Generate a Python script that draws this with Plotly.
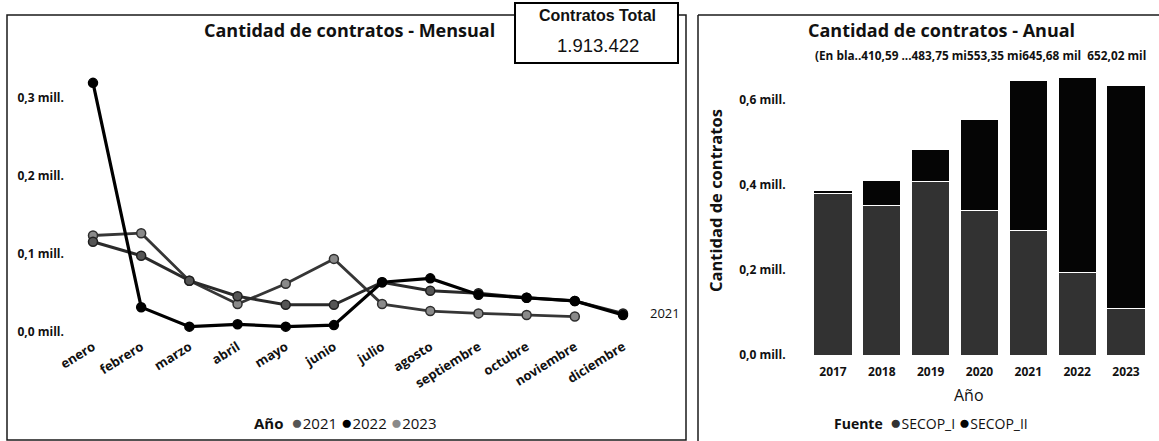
import plotly.graph_objects as go

# ---- data -------------------------------------------------------------
meses = ["enero", "febrero", "marzo", "abril", "mayo", "junio", "julio",
         "agosto", "septiembre", "octubre", "noviembre", "diciembre"]

# monthly contract counts per year
contratos_2021 = [115000, 97000, 65000, 45000, 34000, 34000, 63000,
                  52000, 49000, 43000, 39000, 23000]
contratos_2022 = [319000, 31000, 6000, 9000, 6000, 8000, 63000,
                  68000, 47000, 43000, 39000, 21000]
contratos_2023 = [123000, 126000, 65000, 35000, 61000, 93000, 35000,
                  26000, 23000, 21000, 19000, None]

anios = ["2017", "2018", "2019", "2020", "2021", "2022", "2023"]
# yearly totals and the SECOP_I share; SECOP_II is the remainder
totales = [386000, 410590, 483750, 553350, 645680, 652020, 635000]
secop_i = [379000, 351000, 408000, 339000, 292000, 193000, 110000]
secop_ii = [t - s for t, s in zip(totales, secop_i)]

contratos_total = 1913422

ticks_mes = [0, 100000, 200000, 300000]
ticks_mes_txt = ["0,0 mill.", "0,1 mill.", "0,2 mill.", "0,3 mill."]
ticks_anio = [0, 200000, 400000, 600000]
ticks_anio_txt = ["0,0 mill.", "0,2 mill.", "0,4 mill.", "0,6 mill."]

# ---- helpers ----------------------------------------------------------
W, H = 1159, 441


def fx(px):
    return px / W


def fy(py):
    return 1 - py / H


def es_num(v):
    return f"{v:,.0f}".replace(",", ".")


def es_mil(v):
    return f"{v / 1000:.2f}".replace(".", ",")


FONT = "Open Sans"
INK = "#111111"

estilos = {
    "2021": dict(line="#2a2a2a", fill="#555555", edge="#1e1e1e", width=3),
    "2022": dict(line="#000000", fill="#000000", edge="#000000", width=3.2),
    "2023": dict(line="#363636", fill="#8a8a8a", edge="#2e2e2e", width=2.8),
}
color_i = "#323232"
color_ii = "#050505"

fig = go.Figure()

# ---- monthly lines ----------------------------------------------------
for anio, serie in [("2023", contratos_2023), ("2021", contratos_2021),
                    ("2022", contratos_2022)]:
    e = estilos[anio]
    fig.add_trace(go.Scatter(
        x=meses, y=serie, name=anio, mode="lines+markers",
        line=dict(color=e["line"], width=e["width"]),
        marker=dict(size=9, color=e["fill"],
                    line=dict(color=e["edge"], width=1.5)),
        cliponaxis=False, showlegend=False,
        xaxis="x", yaxis="y",
    ))

# ---- yearly stacked bars ---------------------------------------------
fig.add_trace(go.Bar(
    x=anios, y=secop_i, name="SECOP_I", width=0.78,
    marker=dict(color=color_i, line=dict(color="white", width=1)),
    showlegend=False, xaxis="x2", yaxis="y2",
))
fig.add_trace(go.Bar(
    x=anios, y=secop_ii, name="SECOP_II", width=0.78,
    marker=dict(color=color_ii, line=dict(color="white", width=1)),
    showlegend=False, xaxis="x2", yaxis="y2",
))

step_l = (623 - 93) / 11
step_r = (1126 - 833) / 6
tick_font = dict(size=12, family=FONT, weight="bold", color=INK)

fig.update_layout(
    width=W, height=H,
    margin=dict(l=0, r=0, t=0, b=0),
    paper_bgcolor="white", plot_bgcolor="white",
    barmode="stack",
    font=dict(family=FONT, color=INK, size=12),
    xaxis=dict(
        domain=[fx(93 - step_l / 2), fx(623 + step_l / 2)],
        range=[-0.5, 11.5], type="category", categoryorder="array",
        categoryarray=meses, tickangle=-32, showgrid=False,
        showline=False, zeroline=False, ticks="", automargin=False,
        tickfont=dict(tick_font, size=13),
        anchor="y",
    ),
    yaxis=dict(
        domain=[fy(336), fy(70)],
        range=[-6000, 335500], tickvals=ticks_mes, ticktext=ticks_mes_txt,
        showgrid=False, showline=False, zeroline=False, ticks="",
        automargin=False, ticklabelstandoff=4,
        tickfont=tick_font, anchor="x",
    ),
    xaxis2=dict(
        domain=[fx(833 - step_r / 2), fx(1126 + step_r / 2)],
        range=[-0.5, 6.5], type="category", showgrid=False,
        showline=False, zeroline=False, ticks="", automargin=False,
        ticklabelstandoff=8,
        tickfont=tick_font, anchor="y2",
    ),
    yaxis2=dict(
        domain=[fy(355), fy(70)],
        range=[0, 670600], tickvals=ticks_anio, ticktext=ticks_anio_txt,
        showgrid=False, showline=False, zeroline=False, ticks="",
        automargin=False, ticklabelstandoff=22,
        tickfont=tick_font, anchor="x2",
    ),
)

# ---- panel frames and the total card --------------------------------
frame = dict(color="#1a1a1a", width=1.5)
fig.add_shape(type="rect", xref="paper", yref="paper",
              x0=fx(7), x1=fx(686), y0=fy(440), y1=fy(15), line=frame)
fig.add_shape(type="line", xref="paper", yref="paper",
              x0=fx(698), x1=fx(698), y0=fy(441), y1=fy(15), line=frame)
fig.add_shape(type="line", xref="paper", yref="paper",
              x0=fx(698), x1=fx(1159), y0=fy(15), y1=fy(15), line=frame)
fig.add_shape(type="rect", xref="paper", yref="paper",
              x0=fx(515), x1=fx(678), y0=fy(63), y1=fy(3),
              line=dict(color="#000000", width=2), fillcolor="white")

ann = []


def texto(px, py, s, size=12, bold=False, family=FONT, angle=0,
          xanchor="center", color=INK):
    ann.append(dict(
        x=fx(px), y=fy(py), xref="paper", yref="paper", text=s,
        showarrow=False, xanchor=xanchor, yanchor="middle",
        textangle=angle,
        font=dict(size=size, family=family, color=color,
                  weight="bold" if bold else "normal"),
    ))


# titles
texto(349, 30, "Cantidad de contratos - Mensual", size=18, bold=True)
texto(941, 30, "Cantidad de contratos - Anual", size=18, bold=True)

# card
texto(597, 15, "Contratos Total", size=16, bold=True,
      family="Liberation Sans")
texto(598, 45, es_num(contratos_total), size=18.5,
      family="Liberation Sans")

# overflowing total labels above the yearly bars
fila = ("(En bla.." + es_mil(totales[1]) + " ..." + es_mil(totales[2])
        + " mi" + es_mil(totales[3]) + " mi" + es_mil(totales[4])
        + " mil  " + es_mil(totales[5]) + " mil")
texto(980, 55, fila, size=11.8, bold=True)

# end-of-line series label
ann.append(dict(
    x=meses[-1], y=contratos_2021[-1], xref="x", yref="y", text="2021",
    showarrow=False, xanchor="left", yanchor="middle", xshift=25,
    font=dict(size=13, family=FONT, color=INK),
))

# axis titles of the yearly chart
texto(715, 201, "Cantidad de contratos", size=16.5, bold=True, angle=-90)
texto(969, 395, "Año", size=16)


def punto(color):
    return f"<span style='color:{color};font-size:19px'>●</span>"


# legends
leg_l = ("<b>Año</b>  "
         f"{punto(estilos['2021']['fill'])}2021 "
         f"{punto(estilos['2022']['fill'])}2022 "
         f"{punto(estilos['2023']['fill'])}2023")
texto(345, 422, leg_l, size=15)
leg_r = ("<b>Fuente</b>  "
         f"{punto(color_i)}SECOP_I "
         f"{punto(color_ii)}SECOP_II")
texto(931, 422, leg_r, size=14)

fig.update_layout(annotations=ann)

fig.write_html("out.html")
